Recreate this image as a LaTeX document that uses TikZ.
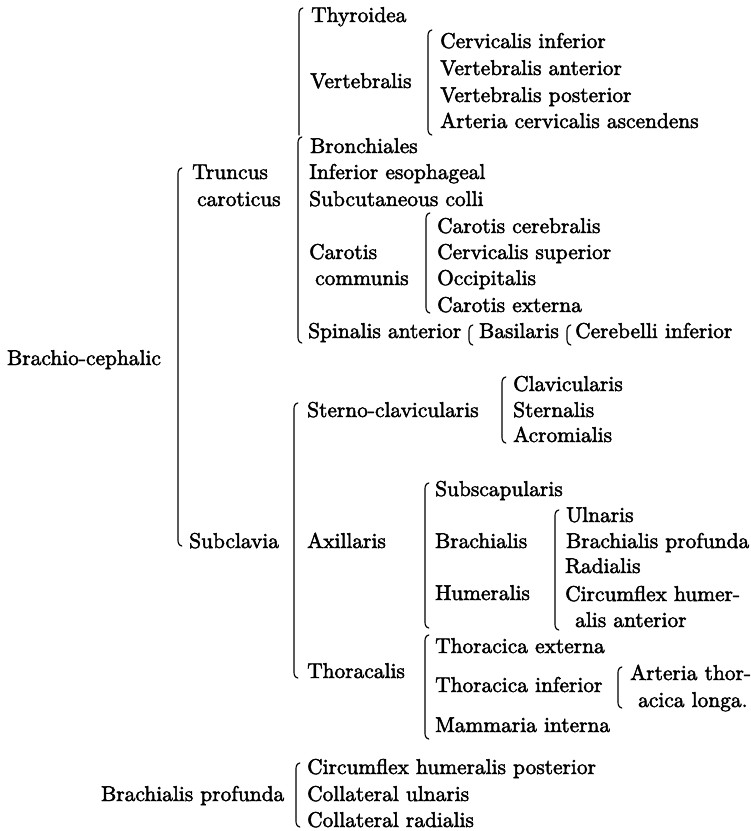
\documentclass[tikz,border=0pt]{standalone}
\usepackage{fontspec}
\setmainfont{lmroman10-regular.otf}[FakeBold=2.2]
\tikzset{
  lbl/.style={anchor=base west, inner sep=0pt, font=\fontsize{21.4}{26}\selectfont},
  brkline/.style={line width=1.2pt, line cap=round}
}
\newcommand\myBrk[3]{\draw[brkline] (#1+3.8,#2) .. controls (#1+0.6,#2+1) and (#1,#2+3) .. (#1,#2+6.5) -- (#1,#3-6.5) .. controls (#1,#3-3) and (#1+0.6,#3-1) .. (#1+3.8,#3);}
\begin{document}
\begin{tikzpicture}[x=1pt,y=-1pt]
\useasboundingbox (0,0) rectangle (751,831);
% labels (baseline = centre + 5)
\node[lbl] (thyroidea) at (311,22) {Thyroidea};
\node[lbl] (vertebralis) at (310,88) {Vertebralis};
\node[lbl] (cervinf) at (440,48) {Cervicalis inferior};
\node[lbl] (vertant) at (440,75) {Vertebralis anterior};
\node[lbl] (vertpost) at (440,102) {Vertebralis posterior};
\node[lbl] (artcerv) at (440,128) {Arteria cervicalis ascendens};
\node[lbl] (bronch) at (310,153) {Bronchiales};
\node[lbl] (infeso) at (309,179) {Inferior esophageal};
\node[lbl] (subcut) at (309,206) {Subcutaneous colli};
\node[lbl] (truncus) at (192,179) {Truncus};
\node[lbl] (caroticus) at (197,206) {caroticus};
\node[lbl] (carcer) at (437,233) {Carotis cerebralis};
\node[lbl] (cervsup) at (437,259) {Cervicalis superior};
\node[lbl] (occip) at (437,285) {Occipitalis};
\node[lbl] (carext) at (437,312) {Carotis externa};
\node[lbl] (carotis) at (309,259) {Carotis};
\node[lbl] (communis) at (315,285) {communis};
\node[lbl] (spinalis) at (308,338) {Spinalis anterior};
\node[lbl] (basilaris) at (479,338) {Basilaris};
\node[lbl] (cerebelli) at (575,338) {Cerebelli inferior};
\node[lbl] (brachio) at (7,365) {Brachio-cephalic};
\node[lbl] (sterno) at (307,417) {Sterno-clavicularis};
\node[lbl] (clavic) at (513,391) {Clavicularis};
\node[lbl] (sternalis) at (513,417) {Sternalis};
\node[lbl] (acrom) at (513,442) {Acromialis};
\node[lbl] (subscap) at (435,496) {Subscapularis};
\node[lbl] (ulnaris) at (566,522) {Ulnaris};
\node[lbl] (subclavia) at (189,548) {Subclavia};
\node[lbl] (axillaris) at (307,548) {Axillaris};
\node[lbl] (brachialis) at (435,548) {Brachialis};
\node[lbl] (brprof) at (566,548) {Brachialis profunda};
\node[lbl] (radialis) at (565,573) {Radialis};
\node[lbl] (humeralis) at (435,600) {Humeralis};
\node[lbl] (circhum) at (565,601) {Circumflex humer-};
\node[lbl] (alisant) at (575,627) {alis anterior};
\node[lbl] (thoracalis) at (307,678) {Thoracalis};
\node[lbl] (thorext) at (435,653) {Thoracica externa};
\node[lbl] (thorinf) at (435,692) {Thoracica inferior};
\node[lbl] (artthor) at (630,680) {Arteria thor-};
\node[lbl] (acica) at (638,707) {acica longa.};
\node[lbl] (mammaria) at (435,732) {Mammaria interna};
\node[lbl] (brprofb) at (101,801) {Brachialis profunda};
\node[lbl] (circpost) at (307,774) {Circumflex humeralis posterior};
\node[lbl] (collul) at (307,801) {Collateral ulnaris};
\node[lbl] (collrad) at (307,827) {Collateral radialis};
% brackets
\myBrk{178}{168}{546}
\draw[brkline] (299+3.8,8) .. controls (299+0.6,9) and (299,11) .. (299,14.5) -- (299,135);
\myBrk{298}{137}{343}
\myBrk{428}{30}{135}
\myBrk{426}{213}{313}
\myBrk{469}{325}{345}
\myBrk{567}{325}{345}
\myBrk{294}{403}{678}
\myBrk{502}{377}{443}
\myBrk{425}{483}{628}
\myBrk{555}{510}{630}
\myBrk{425}{635}{739}
\myBrk{618}{667}{708}
\myBrk{296}{763}{827}
\end{tikzpicture}
\end{document}
